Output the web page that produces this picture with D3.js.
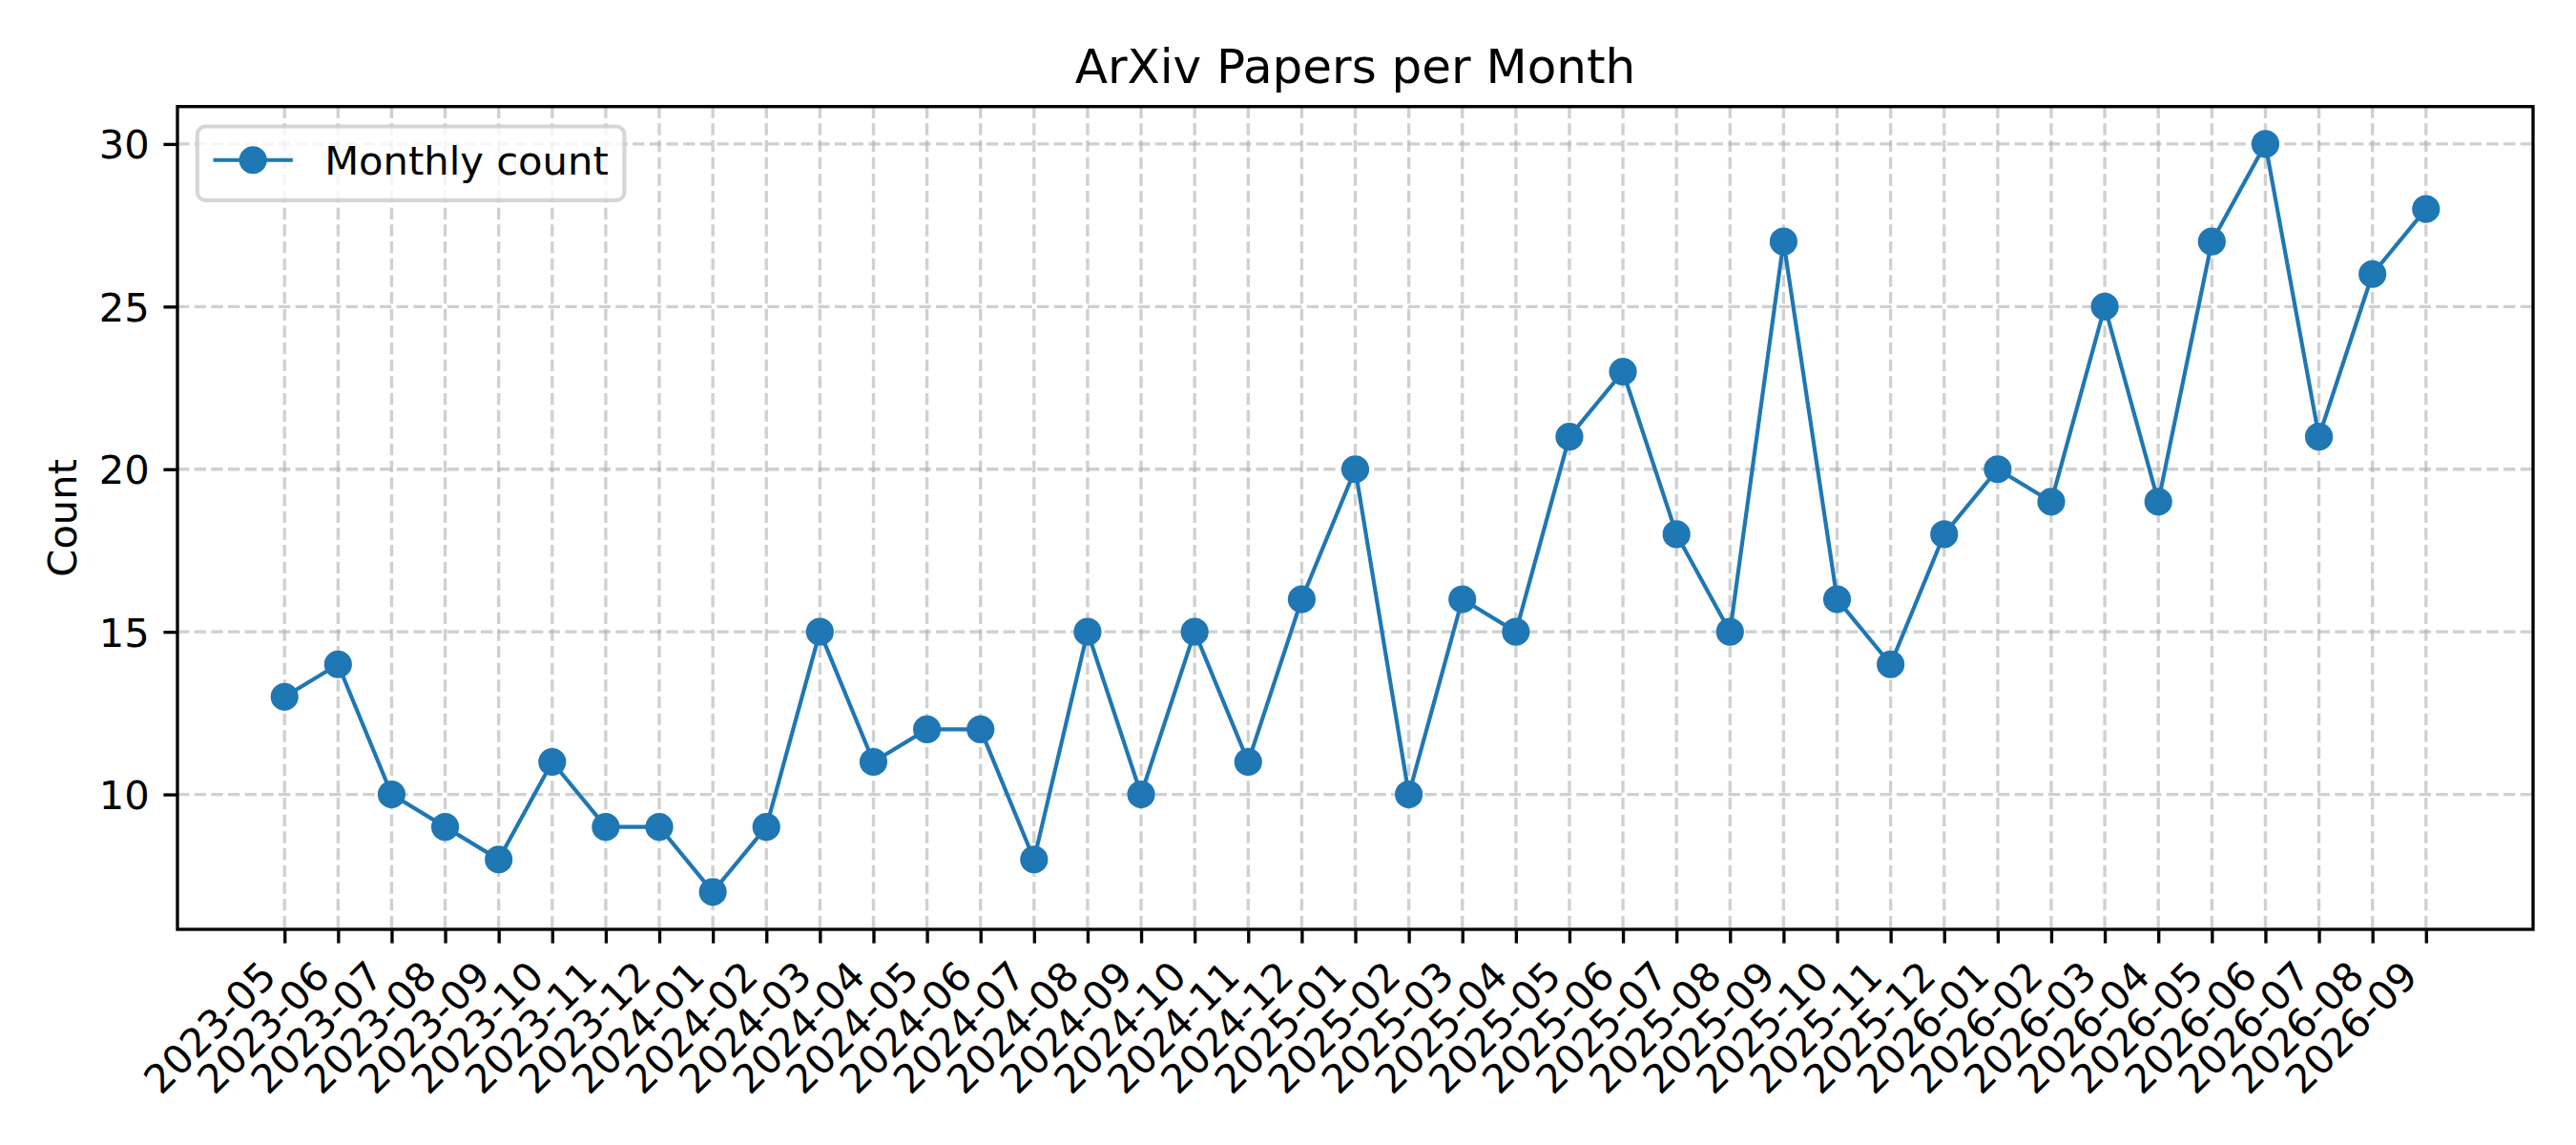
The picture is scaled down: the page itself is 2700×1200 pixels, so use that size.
<!DOCTYPE html>
<html>
<head>
<meta charset="utf-8">
<title>ArXiv Papers per Month</title>
<script src="https://d3js.org/d3.v7.min.js"></script>
<style>
  body { margin: 0; padding: 0; background: #fff; }
  text { font-family: "DejaVu Sans", sans-serif; fill: #000; }
</style>
</head>
<body>
<div id="container"></div>
<script>
// data
var months = [
  "2023-05", "2023-06", "2023-07", "2023-08", "2023-09", "2023-10", "2023-11", "2023-12",
  "2024-01", "2024-02", "2024-03", "2024-04", "2024-05", "2024-06", "2024-07", "2024-08",
  "2024-09", "2024-10", "2024-11", "2024-12",
  "2025-01", "2025-02", "2025-03", "2025-04", "2025-05", "2025-06", "2025-07", "2025-08",
  "2025-09", "2025-10", "2025-11", "2025-12",
  "2026-01", "2026-02", "2026-03", "2026-04", "2026-05", "2026-06", "2026-07", "2026-08", "2026-09"
];
var counts = [
  13, 14, 10, 9, 8, 11, 9, 9,
  7, 9, 15, 11, 12, 12, 8, 15,
  10, 15, 11, 16,
  20, 10, 16, 15, 21, 23, 18, 15,
  27, 16, 14, 18,
  20, 19, 25, 19, 27, 30, 21, 26, 28
];
var yTicks = [10, 15, 20, 25, 30];
var seriesName = "Monthly count";
var titleText = "ArXiv Papers per Month";
var yLabel = "Count";

var width = 2700, height = 1200;
var pt = 300 / 72;               // figure was 300 dpi
var fs = 10 * pt;                // 10pt text
// plot area (window.top is reserved, so prefixed names)
var axL = 186, axR = 2655, axT = 111.7, axB = 974;
var blue = "#1f77b4";

var svg = d3.select("#container").append("svg")
  .attr("width", width)
  .attr("height", height);

// matplotlib-like 5% margins
var x = d3.scaleLinear()
  .domain([-0.05 * (months.length - 1), (months.length - 1) * 1.05])
  .range([axL, axR]);
var yMin = d3.min(counts), yMax = d3.max(counts), pad = (yMax - yMin) * 0.05;
var y = d3.scaleLinear()
  .domain([yMin - pad, yMax + pad])
  .range([axB, axT]);

// grid
var gridStyle = function (sel) {
  sel.attr("stroke", "#b0b0b0")
    .attr("stroke-opacity", 0.6)
    .attr("stroke-width", 0.8 * pt)
    .attr("stroke-dasharray", (3.7 * 0.8 * pt) + "," + (1.6 * 0.8 * pt));
};
svg.append("g").selectAll("line")
  .data(d3.range(months.length))
  .enter().append("line")
  .attr("x1", d => x(d)).attr("x2", d => x(d))
  .attr("y1", axT).attr("y2", axB)
  .call(gridStyle);
svg.append("g").selectAll("line")
  .data(yTicks)
  .enter().append("line")
  .attr("x1", axL).attr("x2", axR)
  .attr("y1", d => y(d)).attr("y2", d => y(d))
  .call(gridStyle);

// axes
var tickLen = 3.5 * pt, tickPad = 3.5 * pt;

var xAxis = svg.append("g")
  .attr("transform", "translate(0," + axB + ")")
  .call(d3.axisBottom(x)
    .tickValues(d3.range(months.length))
    .tickFormat(i => months[i])
    .tickSize(tickLen)
    .tickSizeOuter(0));
xAxis.select(".domain").remove();
xAxis.selectAll(".tick line").attr("stroke", "#000").attr("stroke-width", 0.8 * pt);
// rotated labels: right edge of rotated box at tick, top of box below tick+pad
var asc = 0.76 * fs, desc = 0.236 * fs, s45 = Math.SQRT1_2;
xAxis.selectAll(".tick text")
  .attr("font-size", fs)
  .attr("text-anchor", "end")
  .attr("dy", null)
  .attr("y", null)
  .attr("transform", "translate(" + (-s45 * desc) + "," + (tickLen + tickPad + s45 * asc) + ") rotate(-45)");

var yAxis = svg.append("g")
  .attr("transform", "translate(" + axL + ",0)")
  .call(d3.axisLeft(y)
    .tickValues(yTicks)
    .tickSize(tickLen)
    .tickPadding(tickPad)
    .tickSizeOuter(0));
yAxis.select(".domain").remove();
yAxis.selectAll(".tick line").attr("stroke", "#000").attr("stroke-width", 0.8 * pt);
yAxis.selectAll(".tick text")
  .attr("font-size", fs)
  .attr("dy", "0.36em");

// frame
svg.append("rect")
  .attr("x", axL).attr("y", axT)
  .attr("width", axR - axL).attr("height", axB - axT)
  .attr("fill", "none")
  .attr("stroke", "#000")
  .attr("stroke-width", 0.8 * pt);

// series
var line = d3.line()
  .x((d, i) => x(i))
  .y(d => y(d));
svg.append("path")
  .datum(counts)
  .attr("d", line)
  .attr("fill", "none")
  .attr("stroke", blue)
  .attr("stroke-width", 1 * pt)
  .attr("stroke-linejoin", "round");
svg.append("g").selectAll("circle")
  .data(counts)
  .enter().append("circle")
  .attr("cx", (d, i) => x(i))
  .attr("cy", d => y(d))
  .attr("r", 3 * pt)
  .attr("fill", blue)
  .attr("stroke", blue)
  .attr("stroke-width", 1 * pt);

// title and y label
svg.append("text")
  .attr("x", (axL + axR) / 2)
  .attr("y", axT - 6 * pt)
  .attr("text-anchor", "middle")
  .attr("font-size", 12 * pt)
  .text(titleText);

svg.append("text")
  .attr("transform", "translate(80," + ((axT + axB) / 2) + ") rotate(-90)")
  .attr("text-anchor", "middle")
  .attr("font-size", fs)
  .text(yLabel);

// legend (upper left)
var lx = axL + 0.5 * fs, ly = axT + 0.5 * fs;
var legend = svg.append("g");
var lbox = legend.append("rect")
  .attr("x", lx).attr("y", ly)
  .attr("rx", 0.2 * fs).attr("ry", 0.2 * fs)
  .attr("height", 77.3)
  .attr("fill", "#fff").attr("fill-opacity", 0.8)
  .attr("stroke", "#cccccc").attr("stroke-opacity", 0.8)
  .attr("stroke-width", 1 * pt);
var hx0 = lx + 0.4 * fs, hx1 = hx0 + 2 * fs, hy = ly + 35.2;
legend.append("line")
  .attr("x1", hx0).attr("x2", hx1)
  .attr("y1", hy).attr("y2", hy)
  .attr("stroke", blue).attr("stroke-width", 1 * pt);
legend.append("circle")
  .attr("cx", (hx0 + hx1) / 2).attr("cy", hy)
  .attr("r", 3 * pt)
  .attr("fill", blue).attr("stroke", blue).attr("stroke-width", 1 * pt);
var ltext = legend.append("text")
  .attr("x", hx1 + 0.8 * fs)
  .attr("y", ly + 50.2)
  .attr("font-size", fs)
  .text(seriesName);
var tw = ltext.node().getComputedTextLength();
lbox.attr("width", (hx1 + 0.8 * fs + tw + 0.4 * fs) - lx);
</script>
</body>
</html>
